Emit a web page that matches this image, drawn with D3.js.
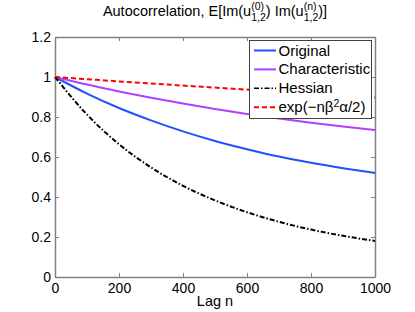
<!DOCTYPE html>
<html><head><meta charset="utf-8">
<script src="https://cdn.jsdelivr.net/npm/d3@7"></script>
<style>body{margin:0;background:#fff;} text{font-family:"Liberation Sans",Arial,sans-serif;}</style>
</head><body><svg id="c" width="415" height="312"></svg>
<script>
const lags = [0,100,200,300,400,500,600,700,800,900,1000];
const original = [1,0.917,0.845,0.783,0.728,0.680,0.639,0.602,0.571,0.544,0.520];
const characteristic = [1,0.962,0.928,0.896,0.867,0.840,0.815,0.792,0.771,0.752,0.735];
const hessian = [1,0.812,0.664,0.548,0.456,0.383,0.324,0.276,0.237,0.206,0.180];
const expTheory = [1,0.989,0.978,0.968,0.957,0.947,0.937,0.927,0.917,0.907,0.897];
const xTicks = [0,200,400,600,800,1000];
const yTicks = [0,0.2,0.4,0.6,0.8,1,1.2];
const seriesNames = ["Original","Characteristic","Hessian","exp"];

const svg = d3.select("#c");
const L=55,R=375,T=37,B=277;
const x = d3.scaleLinear().domain([0,1000]).range([L,R]);
const y = d3.scaleLinear().domain([0,1.2]).range([B,T]);
const axCol="#808080";

const series = [
 {name:"Original", vals:original, color:"#2050ff", dash:null},
 {name:"Characteristic", vals:characteristic, color:"#b040ff", dash:null},
 {name:"Hessian", vals:hessian, color:"#000", dash:"5,2,1.5,2"},
 {name:"exp", vals:expTheory, color:"#ff0000", dash:"5,3"}
];
const line = d3.line().x((d,i)=>x(lags[i])).y(d=>y(d)).curve(d3.curveMonotoneX);

function styleAxis(g){
  g.select(".domain").attr("stroke",axCol).attr("stroke-width",1.5);
  g.selectAll(".tick line").attr("stroke",axCol);
  g.selectAll(".tick text").attr("fill","#000").style("font-size","14px").style("font-family","Liberation Sans, Arial, sans-serif");
}
const fmt = d=>String(d);
svg.append("g").attr("transform",`translate(0,${B})`).call(d3.axisBottom(x).tickValues(xTicks).tickFormat(fmt).tickSizeInner(-4).tickSizeOuter(0).tickPadding(6)).call(styleAxis);
svg.append("g").attr("transform",`translate(0,${T})`).call(d3.axisTop(x).tickValues(xTicks).tickFormat("").tickSizeInner(-4).tickSizeOuter(0)).call(styleAxis);
svg.append("g").attr("transform",`translate(${L},0)`).call(d3.axisLeft(y).tickValues(yTicks).tickFormat(fmt).tickSizeInner(-4).tickSizeOuter(0).tickPadding(4)).call(styleAxis);
svg.append("g").attr("transform",`translate(${R},0)`).call(d3.axisRight(y).tickValues(yTicks).tickFormat("").tickSizeInner(-4).tickSizeOuter(0)).call(styleAxis);

series.forEach(s=>{
  svg.append("path").datum(s.vals).attr("d",line).attr("fill","none")
    .attr("stroke",s.color).attr("stroke-width",2).attr("stroke-dasharray",s.dash);
});

// x label
svg.append("text").attr("x",(L+R)/2).attr("y",306).attr("text-anchor","middle").style("font-size","14.5px").text("Lag n");

// title with stacked super/subscripts
const tg = svg.append("g");
let cx=0; const base=16;
function main(t){const e=tg.append("text").attr("x",cx).attr("y",base).style("font-size","14.5px").text(t);cx+=e.node().getComputedTextLength();}
function stack(sup,sub){
  const a=tg.append("text").attr("x",cx).attr("y",base-6).style("font-size","10.5px").text(sup);
  const b=tg.append("text").attr("x",cx).attr("y",base+5).style("font-size","10.5px").text(sub);
  cx+=Math.max(a.node().getComputedTextLength(),b.node().getComputedTextLength());
}
main("Autocorrelation, E[Im(u"); stack("(0)","1,2"); main(") Im(u"); stack("(n)","1,2"); main(")]");
tg.attr("transform",`translate(${(L+R)/2-cx/2},0)`);

// legend
const lg = svg.append("g");
lg.append("rect").attr("x",249.5).attr("y",40.5).attr("width",122).attr("height",78).attr("fill","#fff").attr("stroke","#404040").attr("stroke-width",1);
series.forEach((s,i)=>{
  const yy=50.5+i*18.9;
  lg.append("line").attr("x1",254).attr("x2",276).attr("y1",yy).attr("y2",yy).attr("stroke",s.color).attr("stroke-width",s.name==="Hessian"?1.5:2).attr("stroke-dasharray",s.dash);
  const t=lg.append("text").attr("x",278.5).attr("y",yy+5).style("font-size","15px");
  if(s.name==="exp"){
    t.append("tspan").text("exp(\u2212n\u03b2");
    t.append("tspan").attr("dy",-5).style("font-size","10.5px").text("2");
    t.append("tspan").attr("dy",5).text("\u03b1/2)");
  } else t.text(s.name);
});
</script></body></html>
